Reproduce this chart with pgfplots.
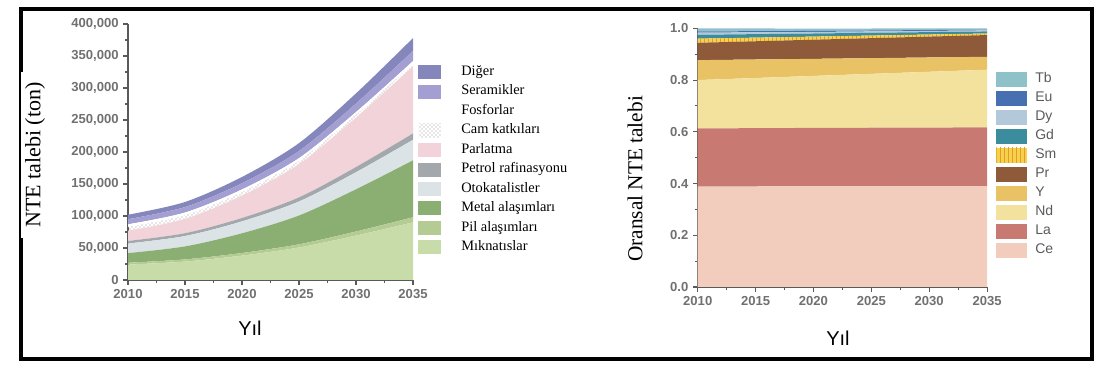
\documentclass[border=0pt]{standalone}
\usepackage{fontspec}
\setmainfont{Liberation Sans}
\newfontfamily\seriffont{Liberation Serif}
\usepackage{pgfplots}
\usepackage{pgfplotstable}
\pgfplotsset{compat=1.18}
\usetikzlibrary{patterns}

\definecolor{cMik}{HTML}{C8DCAA}
\definecolor{cPil}{HTML}{B4CC94}
\definecolor{cMetal}{HTML}{8BAE72}
\definecolor{cOto}{HTML}{DCE3E6}
\definecolor{cPet}{HTML}{A3A8AC}
\definecolor{cParl}{HTML}{F1D3D9}
\definecolor{cSer}{HTML}{A39FD2}
\definecolor{cDig}{HTML}{8587BC}
\definecolor{cCe}{HTML}{F2CDBD}
\definecolor{cLa}{HTML}{C87A72}
\definecolor{cNd}{HTML}{F3E29E}
\definecolor{cY}{HTML}{E9C266}
\definecolor{cPr}{HTML}{8E5A3A}
\definecolor{cSm}{HTML}{F6D24A}
\definecolor{cSmS}{HTML}{E39A2E}
\definecolor{cGd}{HTML}{3B8C9C}
\definecolor{cDy}{HTML}{B3C9D9}
\definecolor{cEu}{HTML}{4770B3}
\definecolor{cTb}{HTML}{8EC2C8}
\definecolor{tickgray}{HTML}{5A5A5A}
\definecolor{labgray}{HTML}{707070}

\pgfplotstableread{
year mik pil metal oto petrol parl cam fos ser dig
2010 24000 3000 15000 15000 4000 16000 6000 4000 8000 7000
2015 28800 3400 20300 16200 4400 22400 5900 4000 8600 7900
2020 38100 4100 30800 18600 5300 35000 5600 4000 9700 9800
2025 50800 5000 45000 21900 6400 52100 5200 4000 11200 12300
2030 69400 6400 65900 26700 8100 77200 4600 4000 13400 15900
2035 90000 8000 89000 32000 10000 105000 4000 4000 16000 20000
}\demand

\pgfplotstableread{
year ce la nd y pr sm gd dy eu tb
2010 0.388 0.225 0.187 0.077 0.067 0.016 0.015 0.008 0.005 0.012
2020 0.389 0.226 0.201 0.066 0.074 0.012 0.012 0.006 0.004 0.009
2035 0.390 0.227 0.223 0.050 0.084 0.006 0.008 0.004 0.003 0.005
}\share

\pgfplotsset{
  common/.style={
    scale only axis,
    anchor=south west,
    axis lines*=left,
    axis line style={-,tickgray,line width=0.8pt},
    tick style={tickgray,line width=0.8pt},
    tick align=outside,
    major tick length=3.5pt,
    minor tick length=2.2pt,
    minor tick num=1,
    xmin=2010, xmax=2035,
    xtick={2010,2015,...,2035},
    stack plots=y,
    /pgf/number format/assume math mode=true,
    ticklabel style={font=\fontsize{9.8}{11}\selectfont\bfseries, text=labgray},
    xticklabel style={/pgf/number format/.cd, fixed, 1000 sep={}},
    every axis plot/.append style={draw=none},
    reverse legend,
    legend cell align=left,
  }
}

\begin{document}
\begin{tikzpicture}[x=0.75pt,y=0.75pt]
\path[use as bounding box] (0,0) rectangle (1095,367);
\draw[line width=2.4pt,black] (21,358) rectangle (1092,8);

% left chart
\begin{axis}[common,
  at={(96pt,65.25pt)}, width=213.75pt, height=192pt,
  ymin=0, ymax=400000,
  ytick={0,50000,...,400000},
  yticklabel style={/pgf/number format/.cd, fixed, 1000 sep={,}},
  scaled y ticks=false,
  legend style={at={(1.0175,0.84)}, anchor=north west, draw=none, fill=none,
    inner sep=0pt, row sep=4.1pt,
    font=\seriffont\fontsize{10.8}{12}\selectfont,
    nodes={inner xsep=0pt, inner ysep=0pt, text height=7.6pt, text depth=2.9pt},
    /tikz/every odd column/.append style={column sep=15pt}},
  legend image code/.code={\fill[#1] (0pt,-5.25pt) rectangle (17.25pt,5.25pt);},
]
\addplot[fill=cMik, smooth] table[x=year,y=mik]{\demand} \closedcycle;
\addlegendentry{Mıknatıslar}
\addplot[fill=cPil, smooth] table[x=year,y=pil]{\demand} \closedcycle;
\addlegendentry{Pil alaşımları}
\addplot[fill=cMetal, smooth] table[x=year,y=metal]{\demand} \closedcycle;
\addlegendentry{Metal alaşımları}
\addplot[fill=cOto, smooth] table[x=year,y=oto]{\demand} \closedcycle;
\addlegendentry{Otokatalistler}
\addplot[fill=cPet, smooth] table[x=year,y=petrol]{\demand} \closedcycle;
\addlegendentry{Petrol rafinasyonu}
\addplot[fill=cParl, smooth] table[x=year,y=parl]{\demand} \closedcycle;
\addlegendentry{Parlatma}
\addplot[pattern=crosshatch dots, pattern color=gray!80, smooth] table[x=year,y=cam]{\demand} \closedcycle;
\addlegendentry{Cam katkıları}
\addplot[fill=white, smooth] table[x=year,y=fos]{\demand} \closedcycle;
\addlegendentry{Fosforlar}
\addplot[fill=cSer, smooth] table[x=year,y=ser]{\demand} \closedcycle;
\addlegendentry{Seramikler}
\addplot[fill=cDig, smooth] table[x=year,y=dig]{\demand} \closedcycle;
\addlegendentry{Diğer}
\end{axis}

% right chart
\begin{axis}[common,
  at={(523.3pt,60pt)}, width=217pt, height=194pt,
  ymin=0, ymax=1,
  ytick={0,0.2,...,1.0},
  yticklabel style={/pgf/number format/.cd, fixed, fixed zerofill, precision=1},
  legend style={at={(1.031,0.833)}, anchor=north west, draw=none, fill=none,
    inner sep=0pt, row sep=3pt,
    font=\fontsize{10.5}{12}\selectfont\color{tickgray},
    nodes={inner xsep=0pt, inner ysep=0pt, text height=8pt, text depth=3.25pt},
    /tikz/every odd column/.append style={column sep=6pt}},
  legend image code/.code={\fill[#1] (0pt,-5.6pt) rectangle (23.25pt,5.6pt);},
]
\addplot[fill=cCe] table[x=year,y=ce]{\share} \closedcycle;
\addlegendentry{Ce}
\addplot[fill=cLa] table[x=year,y=la]{\share} \closedcycle;
\addlegendentry{La}
\addplot[fill=cNd] table[x=year,y=nd]{\share} \closedcycle;
\addlegendentry{Nd}
\addplot[fill=cY] table[x=year,y=y]{\share} \closedcycle;
\addlegendentry{Y}
\addplot[fill=cPr] table[x=year,y=pr]{\share} \closedcycle;
\addlegendentry{Pr}
\addplot[fill=cSm, postaction={pattern=vertical lines, pattern color=cSmS}] table[x=year,y=sm]{\share} \closedcycle;
\addlegendentry{Sm}
\addplot[fill=cGd] table[x=year,y=gd]{\share} \closedcycle;
\addlegendentry{Gd}
\addplot[fill=cDy] table[x=year,y=dy]{\share} \closedcycle;
\addlegendentry{Dy}
\addplot[fill=cEu] table[x=year,y=eu]{\share} \closedcycle;
\addlegendentry{Eu}
\addplot[fill=cTb] table[x=year,y=tb]{\share} \closedcycle;
\addlegendentry{Tb}
\end{axis}

% axis titles
\node[fill=white, rotate=90, inner xsep=8pt, inner ysep=3pt, font=\seriffont\fontsize{16.5}{18}\selectfont] at (35,212) {NTE talebi (ton)};
\node[font=\fontsize{15}{18}\selectfont] at (250,39) {Yıl};
\node[rotate=90, font=\seriffont\fontsize{16}{18}\selectfont] at (635,188) {Oransal NTE talebi};
\node[font=\fontsize{15}{18}\selectfont] at (838,29) {Yıl};
\end{tikzpicture}
\end{document}
